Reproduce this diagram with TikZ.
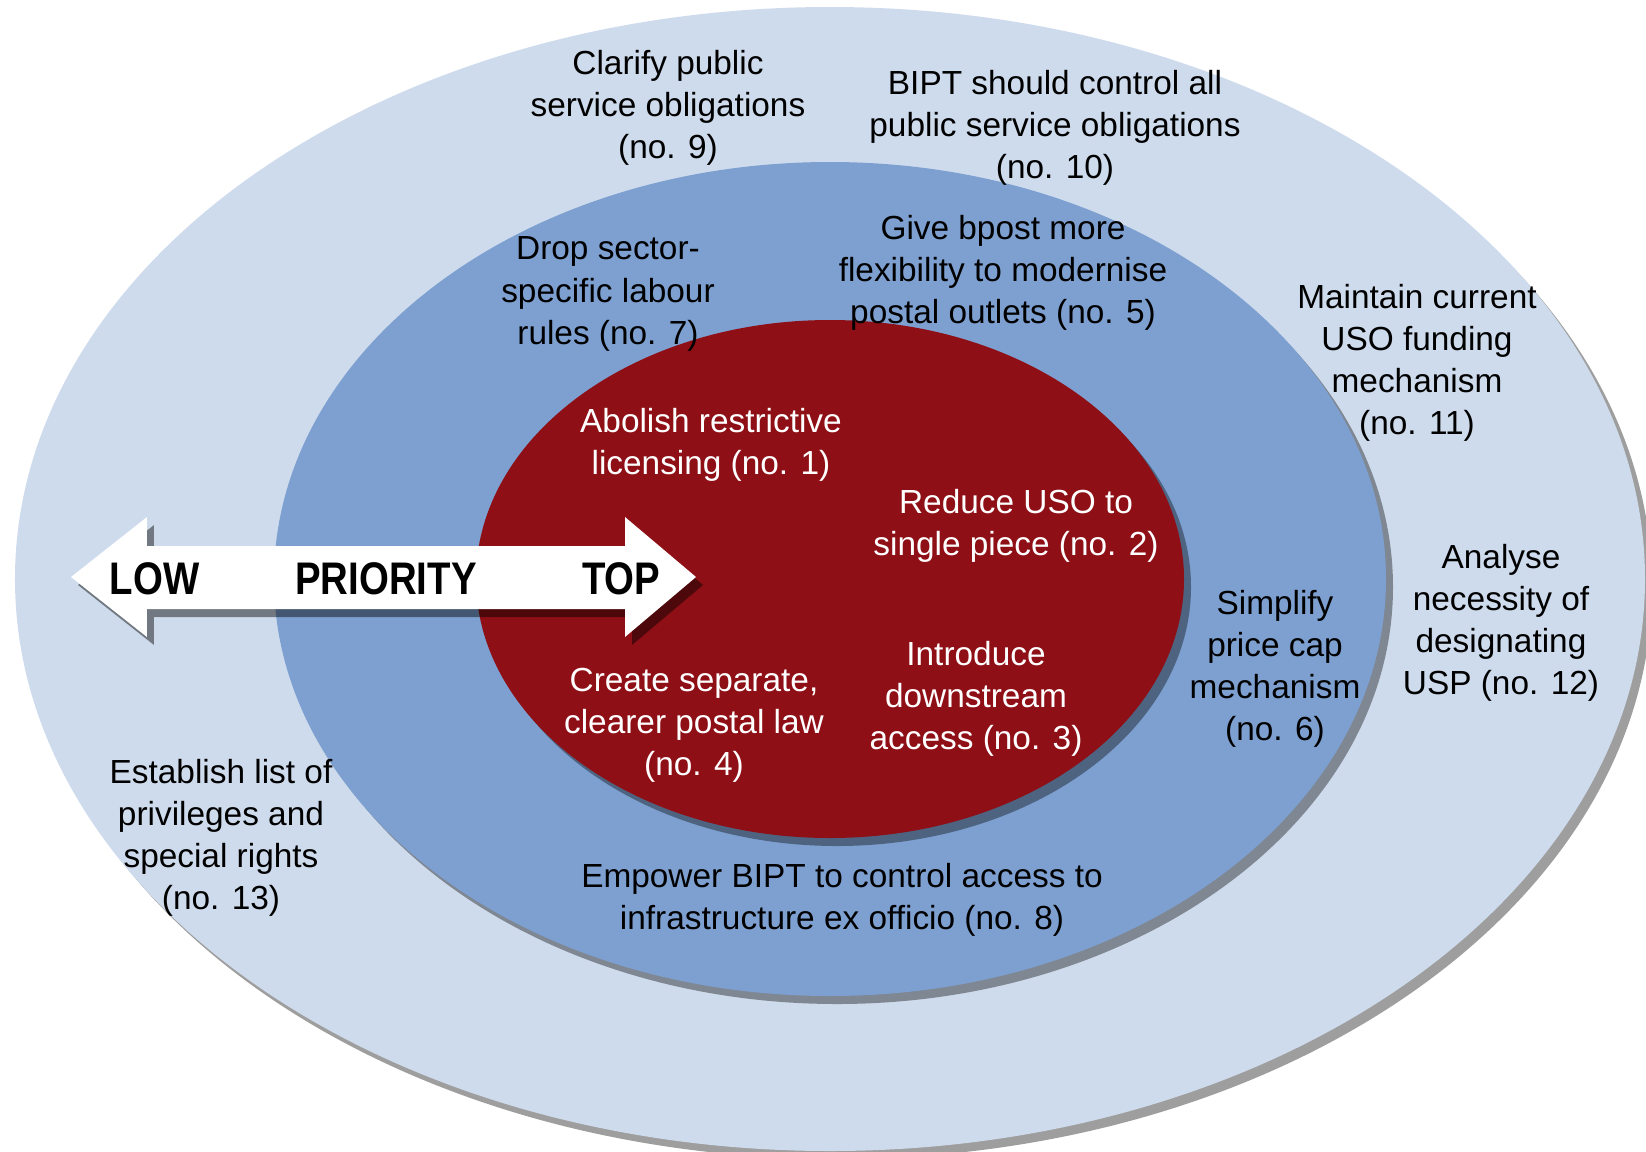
\documentclass[tikz,border=0pt]{standalone}
\usepackage{fontspec}
\setmainfont{Liberation Sans}
\newfontfamily\arrowfont[FakeStretch=0.84]{Liberation Sans Bold}
\usetikzlibrary{shapes.geometric,shadows}

\definecolor{outerblue}{RGB}{206,219,236}
\definecolor{midblue}{RGB}{125,160,208}
\definecolor{corered}{RGB}{142,15,21}

\begin{document}
\begin{tikzpicture}[
  ring/.style={
    ellipse, fill=#1, draw=none, inner sep=0pt,
    drop shadow={shadow xshift=0.07cm, shadow yshift=-0.08cm, fill=black, opacity=0.38}
  },
  item/.style={
    align=center, inner sep=0pt,
    font=\fontsize{9.5}{12}\selectfont
  },
  coreitem/.style={item, text=white},
  arrowtext/.style={
    inner sep=0pt, font=\arrowfont\fontsize{13}{15}\selectfont
  },
]
  \useasboundingbox (-8.30,5.79) rectangle (8.16,-5.72);

  % Three priority rings
  \node[ring=outerblue, minimum width=16.30cm, minimum height=11.44cm] (outer) at (0,0) {};
  \node[ring=midblue, minimum width=11.12cm, minimum height=8.34cm] (middle) at (0,0) {};
  \node[ring=corered, minimum width=7.08cm, minimum height=5.18cm] (core) at (0,0) {};

  % Priority arrow
  \fill[white, drop shadow={shadow xshift=0.07cm, shadow yshift=-0.08cm, fill=black, opacity=0.45}]
    (-7.59,0.02) -- (-6.83,0.62) -- (-6.83,0.33) -- (-2.05,0.33) -- (-2.05,0.62)
    -- (-1.34,0.02) -- (-2.05,-0.58) -- (-2.05,-0.30) -- (-6.83,-0.30)
    -- (-6.83,-0.58) -- cycle;
  \node[arrowtext, anchor=base west] (low) at (-7.21,-0.15) {LOW};
  \node[arrowtext, anchor=base] (prio) at (-4.44,-0.15) {PRIORITY};
  \node[arrowtext, anchor=base east] (top) at (-1.69,-0.15) {TOP};

  % Core: top priority
  \node[coreitem] (no1) at (-1.19,1.34) {Abolish restrictive\\licensing (no. 1)};
  \node[coreitem] (no2) at (1.86,0.53) {Reduce USO to\\single piece (no. 2)};
  \node[coreitem] (no3) at (1.46,-1.20) {Introduce\\downstream\\access (no. 3)};
  \node[coreitem] (no4) at (-1.36,-1.46) {Create separate,\\clearer postal law\\(no. 4)};

  % Middle ring
  \node[item] (no5) at (1.73,3.06) {Give bpost more\\flexibility to modernise\\postal outlets (no. 5)};
  \node[item] (no6) at (4.45,-0.90) {Simplify\\price cap\\mechanism\\(no. 6)};
  \node[item] (no7) at (-2.22,2.85) {Drop sector-\\specific labour\\rules (no. 7)};
  \node[item] (no8) at (0.12,-3.21) {Empower BIPT to control access to\\infrastructure ex officio (no. 8)};

  % Outer ring: low priority
  \node[item] (no9) at (-1.62,4.71) {Clarify public\\service obligations\\(no. 9)};
  \node[item] (no10) at (2.25,4.51) {BIPT should control all\\public service obligations\\(no. 10)};
  \node[item] (no11) at (5.87,2.16) {Maintain current\\USO funding\\mechanism\\(no. 11)};
  \node[item] (no12) at (6.71,-0.44) {Analyse\\necessity of\\designating\\USP (no. 12)};
  \node[item] (no13) at (-6.09,-2.59) {Establish list of\\privileges and\\special rights\\(no. 13)};
\end{tikzpicture}
\end{document}
